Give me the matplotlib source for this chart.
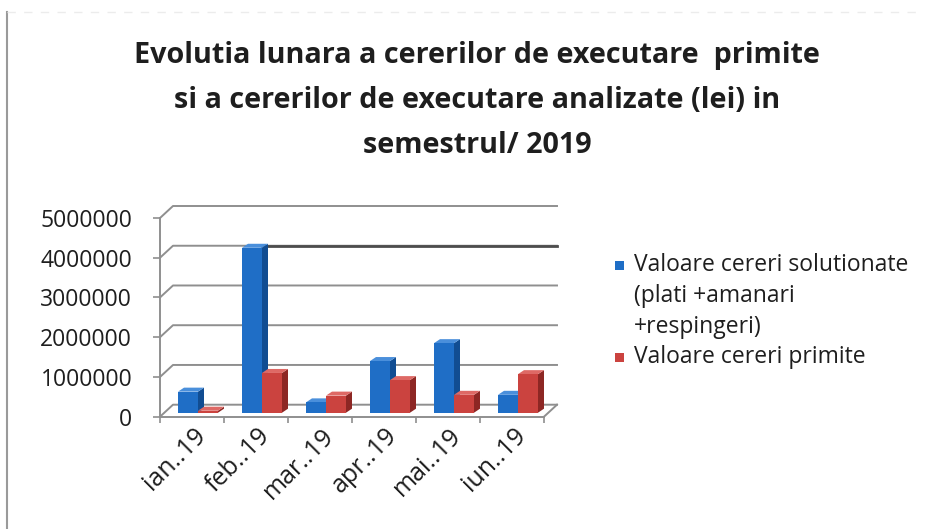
import matplotlib
matplotlib.use('Agg')
import matplotlib.pyplot as plt
from matplotlib.patches import Polygon, Rectangle
from matplotlib.lines import Line2D
from matplotlib.transforms import ScaledTranslation

# ---- data ----
months = ['ian..19', 'feb..19', 'mar..19', 'apr..19', 'mai..19', 'iun..19']
solutionate = [530000, 4150000, 260000, 1300000, 1750000, 450000]
primite = [50000, 1000000, 430000, 820000, 450000, 970000]
ytick_values = [0, 1000000, 2000000, 3000000, 4000000, 5000000]
series_labels = ['Valoare cereri solutionate\n(plati +amanari\n+respingeri)',
                 'Valoare cereri primite']
title_lines = ['Evolutia lunara a cererilor de executare  primite',
               'si a cererilor de executare analizate (lei) in',
               'semestrul/ 2019']

plt.rcParams['font.family'] = ['Open Sans', 'DejaVu Sans']

W, H = 925, 529
fig = plt.figure(figsize=(W / 100, H / 100), dpi=100)
fig.patch.set_facecolor('white')

def fx(px):
    return px / W

def fy(py):
    return (H - py) / H

# front plane of the pseudo-3D plot
x0, x1 = 160, 544
y0, y1 = 416.7, 218
ax = fig.add_axes([fx(x0), fy(y0), fx(x1) - fx(x0), fy(y1) - fy(y0)])
ax.set_xlim(-0.5, len(months) - 0.5)
ax.set_ylim(0, ytick_values[-1])
ax.patch.set_visible(False)

ux = (len(months)) / (x1 - x0)          # data units per pixel (x)
uy = ytick_values[-1] / (y0 - y1)       # data units per pixel (y)

grid_c = '#8f8f8f'
txt_c = '#1e1e1e'
BX, BY = 13 * ux, 12 * uy               # back wall offset
xl, xr = -0.5, len(months) - 0.5

# back wall grid + side diagonals
for v in ytick_values:
    ax.plot([xl, xl + BX, xr + BX], [v, v + BY, v + BY], color=grid_c,
            lw=1.4, clip_on=False, zorder=1)
# floor right edge
ax.plot([xr, xr + BX], [0, BY], color=grid_c, lw=1.4, clip_on=False, zorder=1)
# darker line (as in the scan) at the 4M level to the right of feb bar
ax.plot([1 + 6 * ux, xr + BX], [4000000 + BY, 4000000 + BY], color='#4d4d4d',
        lw=2.0, clip_on=False, zorder=1.5)

# bars
FX, FY = 6 * ux, 4 * uy                 # bar front-face offset (depth position)
DX, DY = 6 * ux, 4 * uy                 # bar depth
w = 20 * ux
series = [
    (solutionate, '#1f6ec6', '#114d92', '#4a8fdb'),
    (primite, '#cb433f', '#8d2724', '#de6965'),
]
for i in range(len(months)):
    for k, (vals, cf, cs, ct) in enumerate(series):
        v = vals[i]
        left = i + FX - w + k * w
        right = left + w
        ax.bar(left + w / 2, v, width=w, bottom=FY, color=cf,
               edgecolor='none', zorder=3 + 2 * i + k * 0.5, clip_on=False)
        side = Polygon([(right, FY), (right + DX, FY + DY),
                        (right + DX, FY + v + DY), (right, FY + v)],
                       closed=True, facecolor=cs, edgecolor='none',
                       zorder=2.9 + 2 * i + k * 0.5, clip_on=False)
        top = Polygon([(left, FY + v), (right, FY + v),
                       (right + DX, FY + v + DY), (left + DX, FY + v + DY)],
                      closed=True, facecolor=ct, edgecolor='none',
                      zorder=2.9 + 2 * i + k * 0.5, clip_on=False)
        ax.add_patch(side)
        ax.add_patch(top)

# axes styling
for s in ['top', 'right']:
    ax.spines[s].set_visible(False)
for s in ['left', 'bottom']:
    ax.spines[s].set_color(grid_c)
    ax.spines[s].set_linewidth(1.4)
ax.set_yticks(ytick_values)
ax.set_yticklabels([str(v) for v in ytick_values])
ax.tick_params(axis='y', direction='out', length=5, width=1.2, color=grid_c,
               pad=15, labelsize=16.5, labelcolor=txt_c)
ax.set_xticks(range(len(months)))
ax.set_xticklabels(months, rotation=45, ha='right', va='center',
                   rotation_mode='anchor')
ax.set_xticks([i - 0.5 for i in range(len(months) + 1)], minor=True)
ax.tick_params(axis='x', which='major', length=0, pad=11, labelsize=18,
               labelcolor=txt_c)
ax.tick_params(axis='x', which='minor', direction='out', length=4.5,
               width=1.2, color=grid_c)
for lab in ax.get_xticklabels():
    lab.set_transform(lab.get_transform() +
                      ScaledTranslation(10 / 100, 0, fig.dpi_scale_trans))

# title (one text per line, baselines as in the reference)
for line, base in zip(title_lines, [63, 108, 153]):
    fig.text(fx(477), fy(base), line, ha='center', va='baseline',
             fontsize=20.7, fontweight='bold', color=txt_c)

# legend (manual)
leg_colors = ['#1f6ec6', '#cb433f']
leg_y = [265, 357]
for lab, c, yy in zip(series_labels, leg_colors, leg_y):
    fig.patches.append(Rectangle((fx(615), fy(yy + 4.5)), 9 / W, 9 / H,
                                 transform=fig.transFigure, facecolor=c,
                                 edgecolor='none'))
    lines = lab.split('\n')
    for j, line in enumerate(lines):
        fig.text(fx(634), fy(yy + 31 * j), line, ha='left', va='center',
                 fontsize=16.5, color=txt_c)

# frame border line on the left of the scan
fig.add_artist(Line2D([fx(7), fx(7)], [fy(12), 0], color='#9a9a9a', lw=1.5))
fig.add_artist(Line2D([fx(7), fx(918)], [fy(12), fy(12)], color='#ececec',
                      lw=1.0, ls=(0, (6, 6))))

fig.savefig('out.png', dpi=100, facecolor='white')
